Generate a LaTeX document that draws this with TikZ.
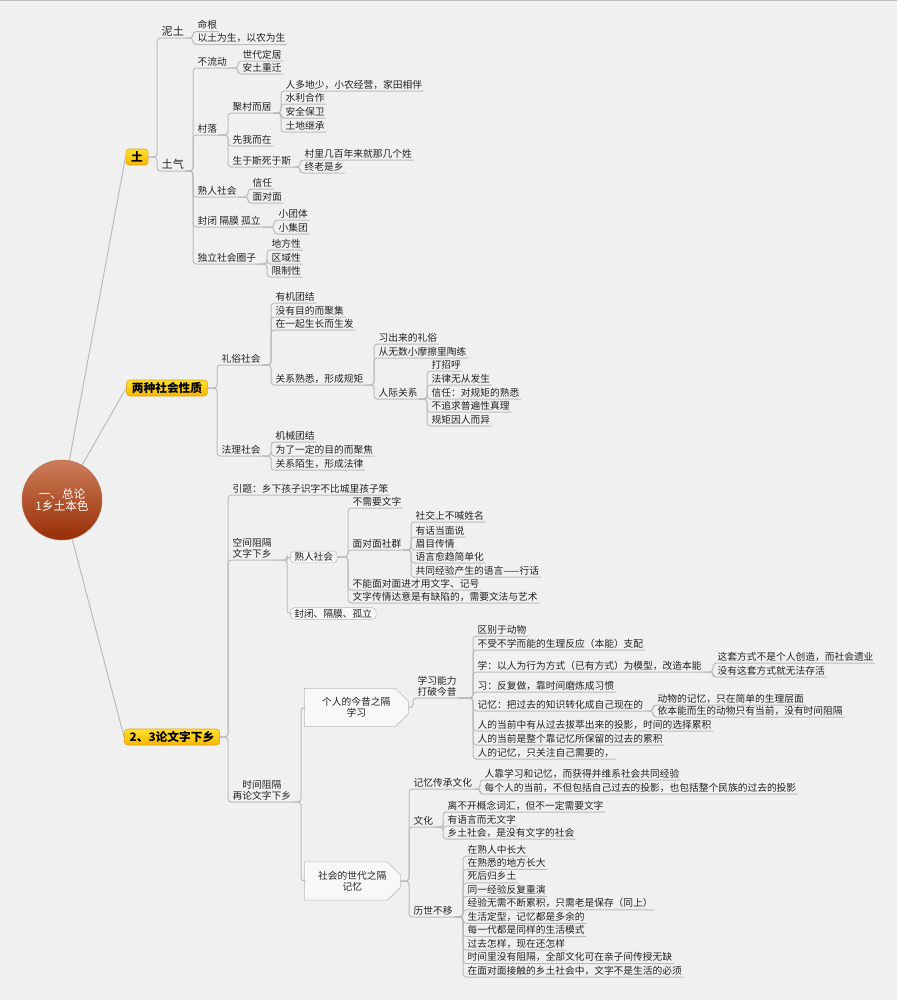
\documentclass[tikz,border=0pt]{standalone}
\usepackage{fontspec}
\setmainfont{Noto Sans CJK SC}
\usetikzlibrary{shapes.misc}
\definecolor{bgcol}{RGB}{240,240,240}
\definecolor{linecol}{RGB}{188,188,188}
\definecolor{txtcol}{RGB}{35,35,35}
\definecolor{rootlight}{RGB}{205,125,90}
\definecolor{rootdark}{RGB}{150,45,5}
\definecolor{ylight}{RGB}{255,225,45}
\definecolor{ydark}{RGB}{246,184,0}
\definecolor{yedge}{RGB}{225,160,20}

\begin{document}
\begin{tikzpicture}[x=0.75pt, y=-0.75pt,
			root/.style={circle, minimum size=60pt, inner sep=0pt, top color=rootlight, bottom color=rootdark, draw=rootdark!70!white, text=white, align=center, font=\fontsize{8.8pt}{9.6pt}\selectfont},
			main/.style={rounded corners=2.5pt, draw=yedge, top color=ylight, bottom color=ydark, text=black, inner xsep=4pt, inner ysep=1.5pt, minimum height=12pt, font=\bfseries\fontsize{8.8pt}{10pt}\selectfont},
			leaf/.style={anchor=south west, inner xsep=1.1pt, inner ysep=0.8pt, text height=0.8em, text depth=0.12em, text=txtcol, align=center, font=\fontsize{7.3pt}{8.3pt}\selectfont},
			leafbig/.style={leaf, font=\fontsize{8.3pt}{9pt}\selectfont},
			rbox/.style={anchor=west, draw=linecol, fill=white!55!bgcol, rounded corners=3pt, inner xsep=3pt, inner ysep=1pt, text=txtcol, font=\fontsize{7.3pt}{8.3pt}\selectfont},
			cbox/.style={anchor=west, chamfered rectangle, chamfered rectangle corners={north east,south east}, chamfered rectangle xsep=6pt, draw=linecol, fill=white!55!bgcol, minimum height=16.5pt, align=center, text=txtcol, font=\fontsize{7.3pt}{8.1pt}\selectfont},
			link/.style={draw=linecol, line width=0.75pt, rounded corners=2.5pt}
		]
		\fill[bgcol] (0,0) rectangle (897,1000);
		\useasboundingbox (0,0) rectangle (897,1000);
		\draw[linecol, line width=1.1pt] (0,0) -- (897,0);

		\node[root] (root) at (62,500) {一、总论\\1乡土本色};
		\node[main] (tu) at (137,157) {土};
		\node[main] (liang) at (167,388) {两种社会性质};
		\node[main] (wenzi) at (172,737) {2、3论文字下乡};
		\foreach \m in {tu,liang,wenzi}
			\draw[link] (root) -- (\m.west);

		\node[leafbig] (nitu) at (160,38) {泥土};
		\node[leafbig] (tuqi) at (160,171) {土气};
		\node[leaf] (minggen) at (196,31.5) {命根};
		\node[leaf] (yitu) at (196,44.5) {以土为生，以农为生};
		\node[leaf] (buliu) at (196,68) {不流动};
		\node[leaf] (cunluo) at (196,135) {村落};
		\node[leaf] (shuren) at (196,197) {熟人社会};
		\node[leaf] (fengbi) at (196,227) {封闭\ 隔膜\ 孤立};
		\node[leaf] (duli) at (196,264) {独立社会圈子};
		\node[leaf] (shidai) at (241,61) {世代定居};
		\node[leaf] (antu) at (241,74) {安土重迁};
		\node[leaf] (jucun) at (231,113) {聚村而居};
		\node[leaf] (xianwo) at (231,146) {先我而在};
		\node[leaf] (shengyu) at (231,167) {生于斯死于斯};
		\node[leaf] (renduo) at (284,91) {人多地少，小农经营，家田相伴};
		\node[leaf] (shuili) at (284,104) {水利合作};
		\node[leaf] (anquan) at (284,118) {安全保卫};
		\node[leaf] (tudi) at (284,132) {土地继承};
		\node[leaf] (cunli) at (303,160) {村里几百年来就那几个姓};
		\node[leaf] (zhonglao) at (303,173) {终老是乡};
		\node[leaf] (xinren) at (251,189) {信任};
		\node[leaf] (mian) at (251,203) {面对面};
		\node[leaf] (xiaotuan) at (277,220) {小团体};
		\node[leaf] (xiaoji) at (277,234) {小集团};
		\node[leaf] (difang) at (270,250) {地方性};
		\node[leaf] (quyu) at (270,264) {区域性};
		\node[leaf] (xianzhi) at (270,277) {限制性};

		\node[leaf] (lisu) at (220,365) {礼俗社会};
		\node[leaf] (fali) at (220,456) {法理社会};
		\node[leaf] (youji) at (274,303) {有机团结};
		\node[leaf] (meiyou) at (274,317) {没有目的而聚集};
		\node[leaf] (zaiyi) at (274,330) {在一起生长而生发};
		\node[leaf] (guanxi) at (274,385) {关系熟悉，形成规矩};
		\node[leaf] (jixie) at (274,442) {机械团结};
		\node[leaf] (weile) at (274,456) {为了一定的目的而聚焦};
		\node[leaf] (moshe) at (274,470) {关系陌生，形成法律};
		\node[leaf] (xichu) at (377,344) {习出来的礼俗};
		\node[leaf] (congwu) at (377,358) {从无数小摩擦里陶练};
		\node[leaf] (renji) at (377,399) {人际关系};
		\node[leaf] (dazhao) at (430,371) {打招呼};
		\node[leaf] (falv) at (430,385) {法律无从发生};
		\node[leaf] (xinyong) at (430,399) {信任：对规矩的熟悉};
		\node[leaf] (buzhui) at (430,412) {不追求普遍性真理};
		\node[leaf] (guiju) at (430,426) {规矩因人而异};

		\node[leaf] (yinti) at (231,495) {引题：乡下孩子识字不比城里孩子笨};
		\node[leaf] (kongjian) at (231,560) {空间阻隔\\文字下乡};
		\node[leaf] (shijian) at (231,802) {时间阻隔\\再论文字下乡};
		\node[rbox] (shurenbox) at (290,557) {熟人社会};
		\node[rbox] (fengbibox) at (290,613.5) {封闭、隔膜、孤立};
		\node[leaf] (buxu) at (351,508) {不需要文字};
		\node[leaf] (mianshe) at (351,550) {面对面社群};
		\node[leaf] (buneng) at (351,590) {不能面对面进才用文字、记号};
		\node[leaf] (quexian) at (351,603) {文字传情达意是有缺陷的，需要文法与艺术};
		\node[leaf] (shejiao) at (414,522) {社交上不喊姓名};
		\node[leaf] (youhua) at (414,537) {有话当面说};
		\node[leaf] (meimu) at (414,550) {眉目传情};
		\node[leaf] (yuyan) at (414,563) {语言愈趋简单化};
		\node[leaf] (hanghua) at (414,577) {共同经验产生的语言——行话};

		\node[cbox, minimum width=78pt] (gerenbox) at (304,707.5) {个人的今昔之隔\\学习};
		\node[cbox, minimum width=72pt] (shehuibox) at (304,881) {社会的世代之隔\\记忆};
		\node[leaf] (xuexi) at (416,698) {学习能力\\打破今昔};
		\node[leaf] (qubie) at (476,636) {区别于动物};
		\node[leaf] (buxue) at (476,650) {不受不学而能的生理反应（本能）支配};
		\node[leaf] (xue) at (476,672) {学：以人为行为方式（已有方式）为模型，改造本能};
		\node[leaf] (xi) at (476,692) {习：反复做，靠时间磨炼成习惯};
		\node[leaf] (jiyi) at (476,711) {记忆：把过去的知识转化成自己现在的};
		\node[leaf] (touying) at (476,731) {人的当前中有从过去拔萃出来的投影，时间的选择累积};
		\node[leaf] (leiji) at (476,745) {人的当前是整个靠记忆所保留的过去的累积};
		\node[leaf] (guanzhu) at (476,759) {人的记忆，只关注自己需要的，};
		\node[leaf] (zhetao) at (716,663) {这套方式不是个人创造，而社会遗业};
		\node[leaf] (cunhuo) at (716,677) {没有这套方式就无法存活};
		\node[leaf] (dongwu) at (656,705) {动物的记忆，只在简单的生理层面};
		\node[leaf] (benneng) at (656,717) {依本能而生的动物只有当前，没有时间阻隔};
		\node[leaf] (chuancheng) at (412,789) {记忆传承文化};
		\node[leaf] (wenhua) at (412,827) {文化};
		\node[leaf] (lishi) at (412,917) {历世不移};
		\node[leaf] (renkao) at (483,780) {人靠学习和记忆，而获得并维系社会共同经验};
		\node[leaf] (meige) at (483,794) {每个人的当前，不但包括自己过去的投影，也包括整个民族的过去的投影};
		\node[leaf] (libukai) at (446,812) {离不开概念词汇，但不一定需要文字};
		\node[leaf] (wuwenzi) at (446,826) {有语言而无文字};
		\node[leaf] (xiangtu) at (446,839) {乡土社会，是没有文字的社会};
		\foreach \t [count=\i] in {在熟人中长大, 在熟悉的地方长大, 死后归乡土, 同一经验反复重演,
				经验无需不断累积，只需老是保存（同上）, 生活定型，记忆都是多余的, 每一代都是同样的生活模式,
				过去怎样，现在还怎样, 时间里没有阻隔，全部文化可在亲子间传授无缺, 在面对面接触的乡土社会中，文字不是生活的必须}
			\node[leaf] (ls\i) at (466,{856+13.45*(\i-1)}) {\t};

		\foreach \p/\c in {tu/nitu, tu/tuqi, liang/lisu, liang/fali, wenzi/yinti, wenzi/kongjian, wenzi/shijian,
				shurenbox/buxu, shurenbox/mianshe, shurenbox/buneng, shurenbox/quexian,
				gerenbox/xuexi, shehuibox/chuancheng, shehuibox/wenhua, shehuibox/lishi}
			\draw[link] (\p.east) -| ([xshift=-2.25pt]\c.south west) -- (\c.south east);
		\foreach \p/\c in {kongjian/shurenbox, kongjian/fengbibox, shijian/gerenbox, shijian/shehuibox}
			\draw[link] (\p.south east) -| ([xshift=-2.25pt]\c.west) -- (\c.west);
		\foreach \p/\c in {nitu/minggen, nitu/yitu, tuqi/buliu, tuqi/cunluo, tuqi/shuren, tuqi/fengbi, tuqi/duli,
				buliu/shidai, buliu/antu, cunluo/jucun, cunluo/xianwo, cunluo/shengyu,
				jucun/renduo, jucun/shuili, jucun/anquan, jucun/tudi, shengyu/cunli, shengyu/zhonglao,
				shuren/xinren, shuren/mian, fengbi/xiaotuan, fengbi/xiaoji, duli/difang, duli/quyu, duli/xianzhi,
				lisu/youji, lisu/meiyou, lisu/zaiyi, lisu/guanxi, fali/jixie, fali/weile, fali/moshe,
				guanxi/xichu, guanxi/congwu, guanxi/renji, renji/dazhao, renji/falv, renji/xinyong, renji/buzhui, renji/guiju,
				mianshe/shejiao, mianshe/youhua, mianshe/meimu, mianshe/yuyan, mianshe/hanghua,
				xuexi/qubie, xuexi/buxue, xuexi/xue, xuexi/xi, xuexi/jiyi, xuexi/touying, xuexi/leiji, xuexi/guanzhu,
				xue/zhetao, xue/cunhuo, jiyi/dongwu, jiyi/benneng, chuancheng/renkao, chuancheng/meige,
				wenhua/libukai, wenhua/wuwenzi, wenhua/xiangtu}
			\draw[link] (\p.south east) -| ([xshift=-2.25pt]\c.south west) -- (\c.south east);
		\foreach \i in {1,...,10}
			\draw[link] (lishi.south east) -| ([xshift=-2.25pt]ls\i.south west) -- (ls\i.south east);
		\end{tikzpicture}
\end{document}
